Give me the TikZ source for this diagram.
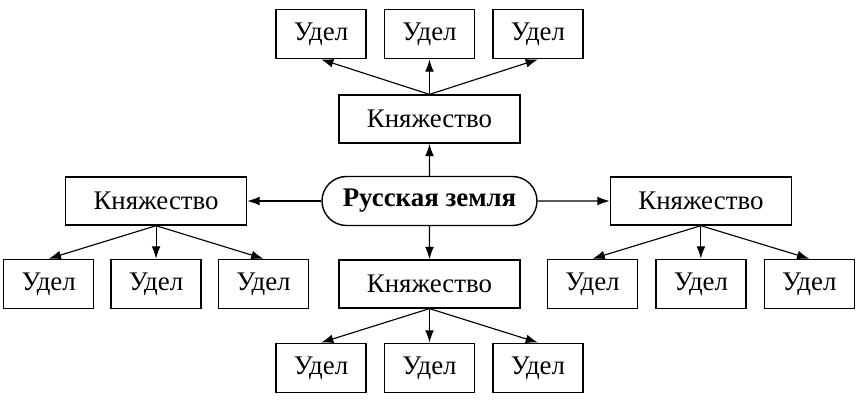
\documentclass[tikz,border=0pt]{standalone}
\usepackage{fontspec}
\setmainfont{Liberation Serif}
\usepackage{tikz}
\usetikzlibrary{positioning, arrows.meta, shapes.misc}

\newcommand{\boxfont}{\fontsize{15.3}{18}\selectfont}

\tikzset{
	udel/.style={draw, rectangle, line width=0.8pt, minimum width=1.8cm, minimum height=0.98cm, inner sep=0pt},
	knyaz/.style={draw, rectangle, line width=0.8pt, minimum width=3.62cm, minimum height=0.96cm, inner sep=0pt},
	land/.style={draw, rounded rectangle, line width=0.8pt, minimum width=4.3cm, minimum height=0.98cm, inner sep=0pt, font=\boxfont\bfseries}
}

\begin{document}
\begin{tikzpicture}[>={Latex[length=7pt,width=5pt]}, line width=0.65pt, font=\boxfont]
		\useasboundingbox (-8.59,4.02) rectangle (8.69,-4.06);
		% Nodes
		\node (rus) [land] {Русская земля};
		\node (kn_top) [knyaz, above=0.64cm of rus] {Княжество};
		\node (kn_left) [knyaz, left=1.48cm of rus] {Княжество};
		\node (kn_right) [knyaz, right=1.44cm of rus] {Княжество};
		\node (kn_bottom) [knyaz, below=0.66cm of rus] {Княжество};

		\node (ud_t2) [udel, above=0.7cm of kn_top] {Удел};
		\node (ud_t1) [udel, left=0.34cm of ud_t2] {Удел};
		\node (ud_t3) [udel, right=0.34cm of ud_t2] {Удел};

		\node (ud_l2) [udel, below=0.66cm of kn_left] {Удел};
		\node (ud_l1) [udel, left=0.32cm of ud_l2] {Удел};
		\node (ud_l3) [udel, right=0.32cm of ud_l2] {Удел};

		\node (ud_r2) [udel, below=0.66cm of kn_right] {Удел};
		\node (ud_r1) [udel, left=0.34cm of ud_r2] {Удел};
		\node (ud_r3) [udel, right=0.34cm of ud_r2] {Удел};

		\node (ud_b2) [udel, below=0.68cm of kn_bottom] {Удел};
		\node (ud_b1) [udel, left=0.34cm of ud_b2] {Удел};
		\node (ud_b3) [udel, right=0.34cm of ud_b2] {Удел};

		% Arrows
		% from the land to the principalities
		\path[->] (rus) edge (kn_top);
		\path[->] (rus) edge (kn_left);
		\path[->] (rus) edge (kn_right);
		\path[->] (rus) edge (kn_bottom);

		% from each principality to its appanages
		\path[->] (kn_top.north) edge (ud_t1.south) edge (ud_t2.south) edge (ud_t3.south);
		\path[->] (kn_left.south) edge (ud_l1.north) edge (ud_l2.north) edge (ud_l3.north);
		\path[->] (kn_right.south) edge (ud_r1.north) edge (ud_r2.north) edge (ud_r3.north);
		\path[->] (kn_bottom.south) edge (ud_b1.north) edge (ud_b2.north) edge (ud_b3.north);

	\end{tikzpicture}
\end{document}
